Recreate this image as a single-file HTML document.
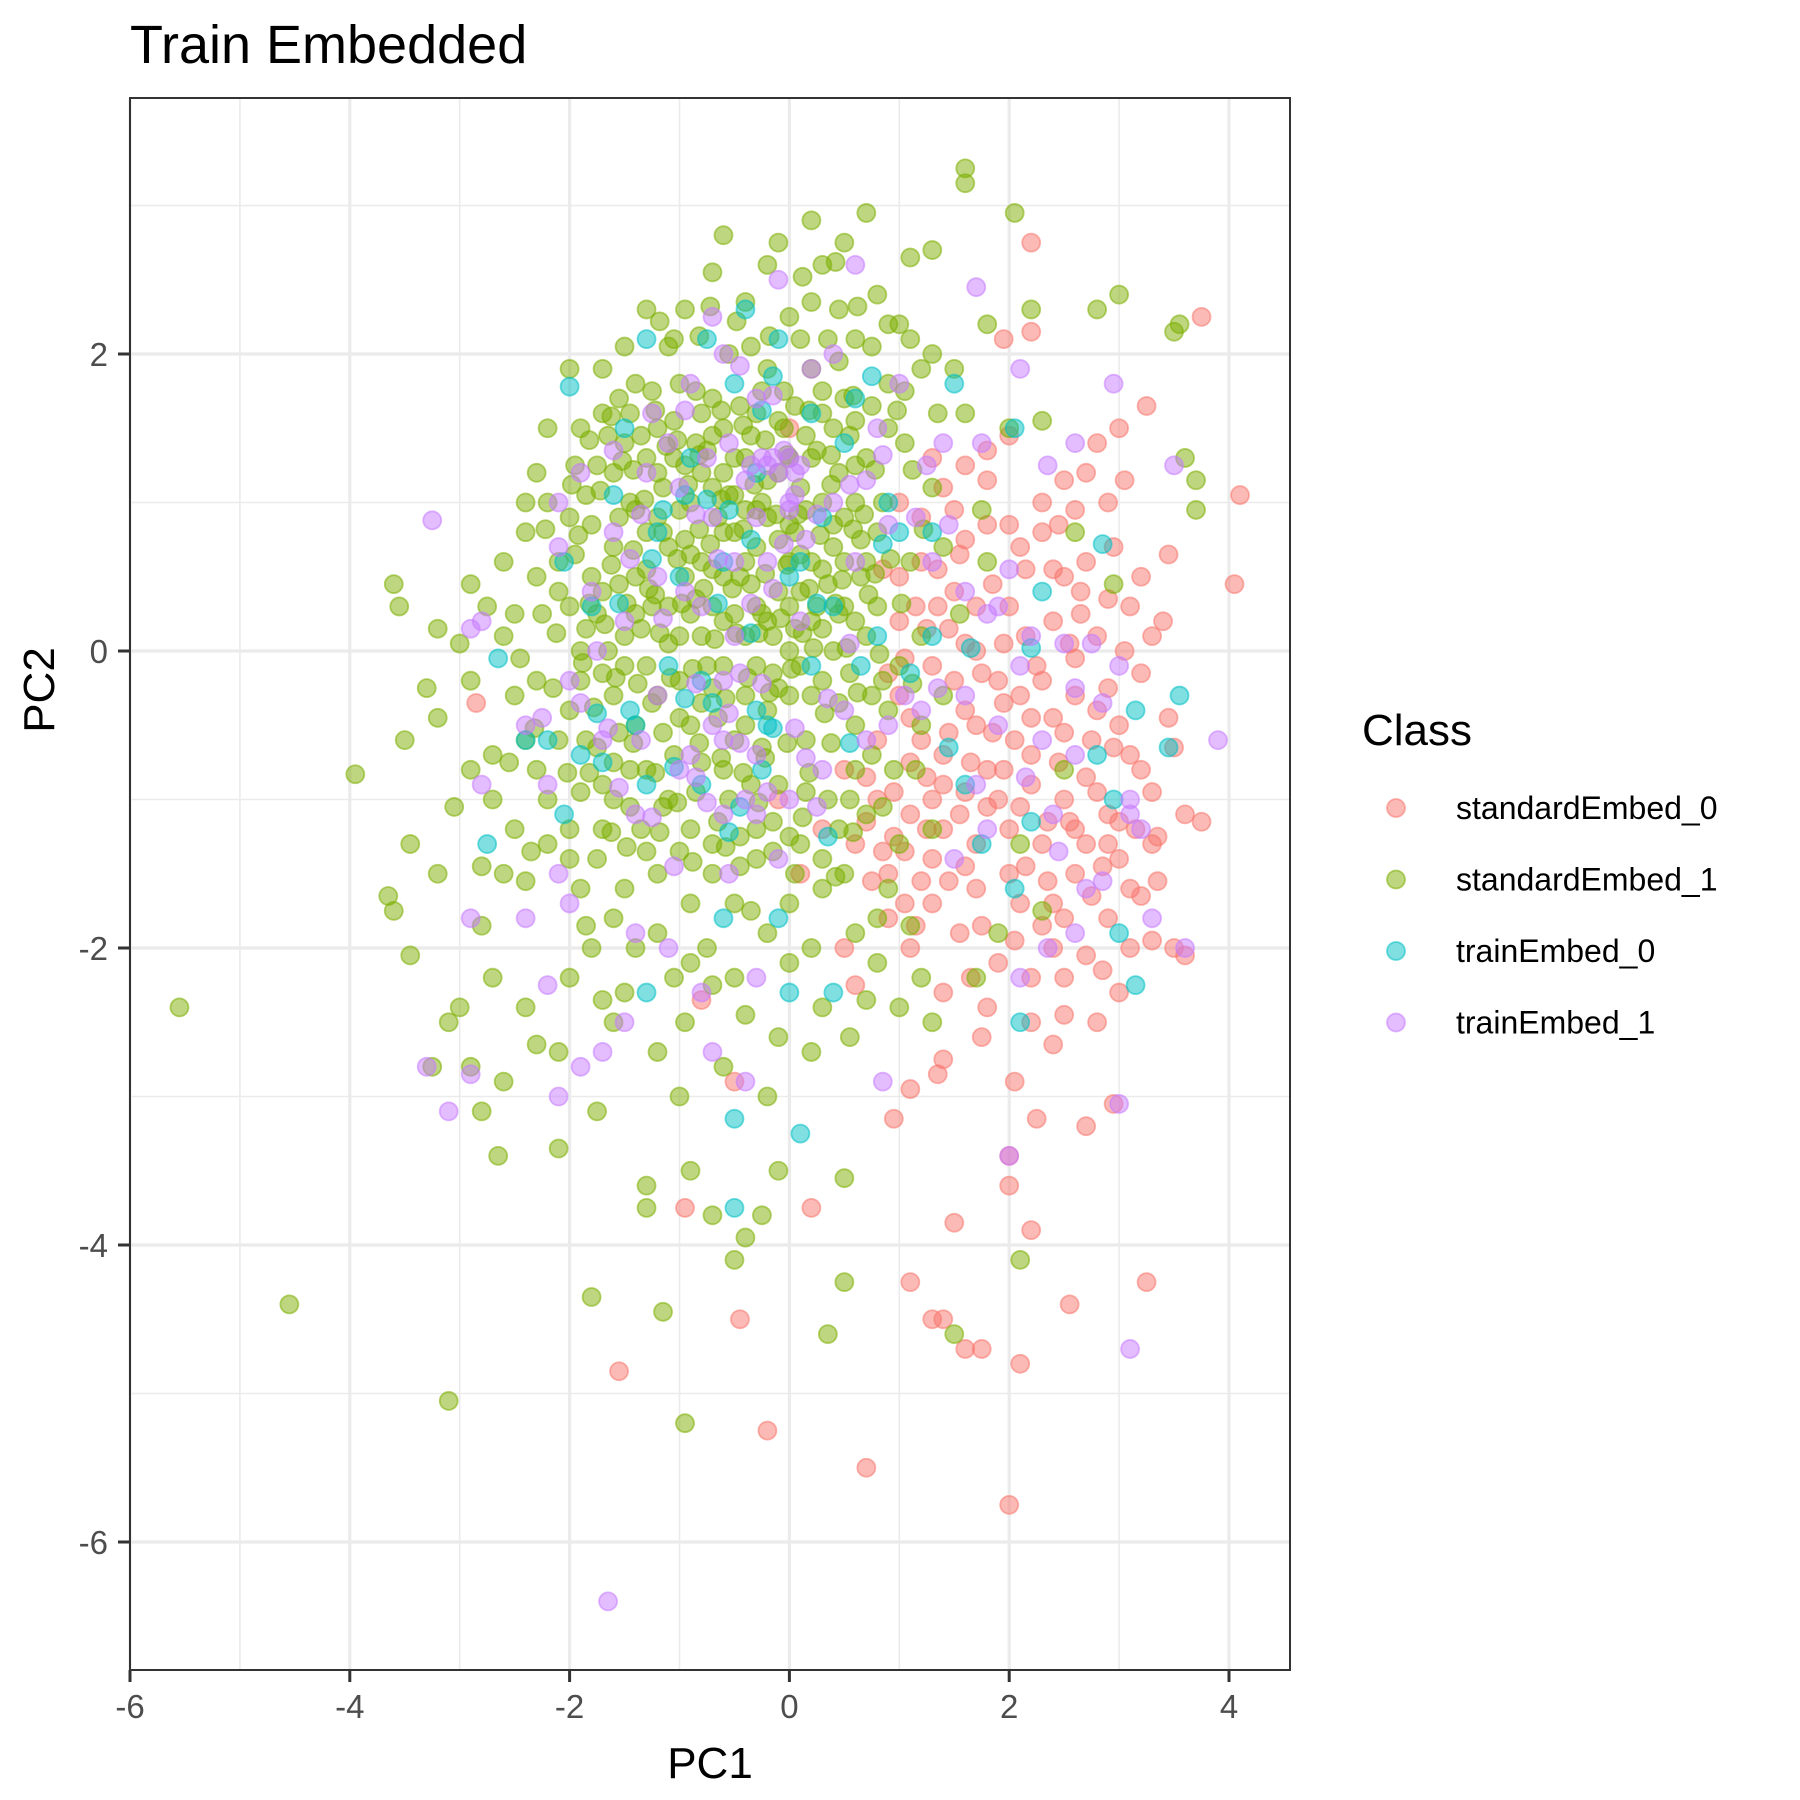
<!DOCTYPE html>
<html><head><meta charset="utf-8"><title>Train Embedded</title>
<style>html,body{margin:0;padding:0;background:#fff}svg{display:block}text{font-family:"Liberation Sans",Arial,sans-serif}</style></head>
<body>
<svg id="chart" width="1800" height="1800" viewBox="0 0 1800 1800" xmlns="http://www.w3.org/2000/svg">
<rect x="0" y="0" width="1800" height="1800" fill="#fff"/>
<text x="130" y="63" font-size="54" fill="#000">Train Embedded</text>
<g id="grid"></g>
<g id="points"></g>
<rect x="130" y="98" width="1160" height="1572" fill="none" stroke="#333" stroke-width="2"/>
<g id="axes"></g>
<text x="710" y="1778" font-size="44" text-anchor="middle" fill="#000">PC1</text>
<text transform="translate(54,690) rotate(-90)" font-size="44" text-anchor="middle" fill="#000">PC2</text>
<g id="legend">
<text x="1362" y="745" font-size="44" fill="#000">Class</text>
</g>
</svg>
<script>
const classNames = ["standardEmbed_0","standardEmbed_1","trainEmbed_0","trainEmbed_1"];
const classColors = ["#F8766D","#7CAE00","#00BFC4","#C77CFF"];
const xTicks = [-6,-4,-2,0,2,4];
const yTicks = [-6,-4,-2,0,2];
const xTickLabels = ["-6","-4","-2","0","2","4"];
const yTickLabels = ["-6","-4","-2","0","2"];
const redPts = "2.2,2.75 3.75,2.25 2.2,2.15 1.95,2.1 3.25,1.65 4.1,1.05 4.05,0.45 3.45,0.65 3.0,1.5 3.05,1.15 2.8,1.4 2.9,1.0 2.6,0.95 2.3,0.8 2.0,0.85 1.8,1.15 1.6,1.25 1.4,1.1 1.2,0.9 1.0,0.5 1.5,0.4 2.5,0.5 3.1,0.3 3.3,0.1 2.8,0.1 2.4,0.2 2.0,0.3 1.7,0.0 1.3,-0.1 1.0,-0.3 0.8,-0.6 1.2,-0.6 1.6,-0.4 2.1,-0.3 2.6,-0.3 3.0,-0.5 3.2,-0.8 3.5,-0.65 3.6,-1.1 3.75,-1.15 3.3,-0.95 2.9,-1.1 2.5,-1.0 2.2,-0.9 1.8,-0.8 1.4,-0.9 1.1,-1.1 0.8,-1.0 0.6,-1.3 0.9,-1.5 1.3,-1.7 1.7,-1.3 2.3,-1.3 2.7,-1.3 3.0,-1.4 3.1,-1.6 3.2,-1.65 2.9,-1.8 2.5,-1.8 2.1,-1.7 1.7,-1.6 1.3,-1.4 0.9,-1.8 0.5,-2.0 0.6,-2.25 1.1,-2.0 1.4,-2.3 1.8,-2.4 2.2,-2.5 2.5,-2.45 3.0,-2.3 3.1,-2.0 3.5,-2.0 3.6,-2.05 1.75,-2.6 2.05,-2.9 2.4,-2.65 2.7,-3.2 2.95,-3.05 1.4,-2.75 1.35,-2.85 1.1,-2.95 0.95,-3.15 2.25,-3.15 2.0,-3.4 2.0,-3.6 2.2,-3.9 1.5,-3.85 3.25,-4.25 2.55,-4.4 1.1,-4.25 1.3,-4.5 1.4,-4.5 1.6,-4.7 1.75,-4.7 2.1,-4.8 -0.45,-4.5 -1.55,-4.85 -0.2,-5.25 0.7,-5.5 2.0,-5.75 -0.95,-3.75 0.2,-3.75 -0.5,-2.9 -0.8,-2.35 0.1,-1.5 -0.1,-1.0 0.3,-1.2 -2.85,-0.35 0.0,1.5 2.0,1.45 1.0,1.0 0.5,-0.8 2.4,-2.0 1.9,-1.0 1.15,0.3 1.45,0.15 1.85,0.45 2.15,0.55 2.45,0.85 2.7,0.6 2.95,0.7 3.2,-0.15 2.75,-0.6 2.4,-0.45 2.05,-0.6 1.75,-0.15 1.45,-0.55 1.25,-0.85 1.55,-1.1 2.0,-1.2 2.35,-1.55 2.6,-1.5 2.85,-1.45 3.35,-1.25 3.45,-0.45 2.65,0.25 2.25,-0.1 1.95,0.05 1.6,0.75 1.35,0.55 1.1,-0.45 0.9,-0.15 0.7,-0.85 0.95,-1.25 1.2,-1.55 1.55,-1.9 1.9,-2.1 2.2,-2.2 2.7,-2.05 2.8,-2.5 3.3,-1.3 1.65,-2.2 1.05,-1.7 0.75,-1.55 2.3,1.0 2.55,0.05 3.05,0.0 2.9,-0.25 1.85,-0.55 2.55,-1.15 2.15,-1.45 1.0,0.2 1.3,1.3 1.7,0.3 2.15,0.1 0.85,0.55 1.05,-0.05 1.25,0.15 1.5,-0.2 1.7,-0.5 1.95,-0.35 2.2,-0.7 2.45,-0.75 2.7,-0.85 2.95,-0.65 3.15,-1.2 2.75,-1.65 2.4,-1.7 2.0,-1.5 1.6,-1.45 1.25,-1.2 0.95,-0.95 0.7,-1.15 1.05,-1.35 1.4,-1.2 1.8,-1.05 2.1,-1.05 2.35,-1.15 2.6,-1.2 2.9,-1.3 3.1,-0.7 2.8,-0.4 2.5,-0.55 2.2,-0.45 1.9,-0.2 1.6,0.05 1.35,0.3 1.2,0.6 1.55,0.65 1.8,0.85 2.1,0.7 2.4,0.55 2.65,0.4 2.9,0.35 3.2,0.5 3.4,0.2 1.4,-0.7 1.65,-0.75 1.95,-0.8 2.3,-0.2 2.6,-0.05 1.1,-0.75 1.3,-1.0 1.6,-0.95 2.05,-1.95 2.3,-1.85 1.75,-1.85 1.45,-1.55 1.15,-1.85 0.85,-1.35 2.8,-0.95 3.0,-1.15 2.5,-2.2 2.85,-2.15 3.35,-1.55 3.3,-1.95 1.5,0.95 1.8,1.35 2.5,1.15 2.7,1.2";
const greenPts = "-5.55,-2.4 -4.55,-4.4 -3.95,-0.83 -3.1,-5.05 -0.95,-5.2 -1.8,-4.35 -1.15,-4.45 0.35,-4.6 1.5,-4.6 2.1,-4.1 0.5,-4.25 -0.5,-4.1 -0.4,-3.95 -0.25,-3.8 -0.7,-3.8 -1.3,-3.6 -1.3,-3.75 0.5,-3.55 -0.1,-3.5 -0.9,-3.5 -1.75,-3.1 -2.1,-3.35 -2.65,-3.4 -2.8,-3.1 -3.25,-2.8 -2.9,-2.8 -3.0,-2.4 -3.1,-2.5 -2.6,-2.9 -2.3,-2.65 -2.1,-2.7 -1.6,-2.5 -1.2,-2.7 -1.0,-3.0 -0.6,-2.8 -0.2,-3.0 0.3,-2.4 0.7,-2.35 1.6,3.25 1.6,3.15 2.05,2.95 0.7,2.95 0.2,2.9 1.3,2.7 1.1,2.65 2.8,2.3 3.0,2.4 3.5,2.15 3.55,2.2 3.6,1.3 3.7,1.15 3.7,0.95 2.6,0.8 2.95,0.45 -3.6,0.45 -3.55,0.3 -3.5,-0.6 -3.65,-1.65 -3.6,-1.75 -3.45,-1.3 -3.45,-2.05 -3.2,-1.5 -3.2,-0.45 -3.3,-0.25 -3.2,0.15 -2.9,0.45 -2.9,-0.8 -2.8,-1.45 -2.8,-1.85 -2.7,-2.2 -2.6,-1.5 -2.6,0.6 -2.5,-0.3 -2.4,0.8 -2.3,-0.8 -2.2,1.0 -2.1,0.4 -2.0,-1.2 -1.9,1.5 -1.8,-2.0 -1.5,-2.3 -1.2,-1.9 -0.9,-2.1 -0.5,-2.2 0.0,-2.1 0.5,-1.5 0.9,-1.6 1.1,-1.85 1.3,-2.5 1.7,-2.2 1.9,-1.9 2.1,-1.3 1.4,-0.3 1.8,0.6 2.0,1.5 2.2,2.3 1.8,2.2 1.5,1.9 1.1,2.1 0.8,2.4 0.3,2.6 -0.2,2.6 -0.7,2.55 -1.1,2.05 -1.4,1.8 -1.7,1.6 -2.2,1.5 -2.4,1.0 -2,0.9 -1.8,0.5 -1.6,1.2 -1.5,0.1 -1.4,-0.5 -1.3,0.8 -1.2,1.5 -1.1,0.3 -1,-0.2 -0.9,1 -0.8,0.6 -0.7,1.7 -0.6,0.2 -0.5,-0.6 -0.4,1.3 -0.3,0.7 -0.2,1.9 -0.1,0.4 0,-0.3 0.1,1.1 0.2,0.6 0.3,1.6 0.4,0 0.5,0.9 0.6,-0.5 0.7,1.3 0.8,0.3 0.9,1.8 1,-0.1 1.1,0.6 -1.9,-0.2 -1.7,-0.9 -1.6,0.7 -1.45,1.6 -1.35,-1.2 -1.25,0.3 -1.15,1.1 -1.05,-0.7 -0.95,0.5 -0.85,1.4 -0.75,-0.1 -0.65,0.9 -0.55,2.0 -0.45,0.5 -0.35,-0.9 -0.25,1.0 -0.15,0.1 -0.05,1.5 0.05,0.8 0.15,-0.6 0.25,0.3 0.35,2.1 0.45,1.2 0.55,-1 0.65,0.5 0.75,-0.3 0.85,1.0 0.95,-0.8 1.05,1.4 1.2,0.1 -2.1,-0.6 -2,0.3 -1.85,1.05 -1.75,-1.4 -1.65,0 -1.55,0.9 -1.45,-0.8 -1.3,1.3 -1.2,-0.3 -1.1,0.7 -1,1.8 -0.9,-1.2 -0.8,0.1 -0.7,1.1 -0.6,-0.8 -0.5,0.8 -0.4,0.1 -0.3,1.6 -0.2,-0.4 -0.1,1.2 0,0.6 0.1,-1.3 0.2,1.9 0.3,-0.2 0.4,0.7 0.5,1.7 0.6,0.2 0.7,-1.1 0.8,0.8 0.9,-0.4 -1.7,1.9 -1.5,1.4 -1.2,0.9 -1,0.1 -0.8,1.6 -0.6,0.5 -0.4,-0.3 -0.2,0.9 0,1.3 0.2,0.2 0.4,1.5 0.6,1 -1.4,0.5 -1.1,-1 -0.9,-0.5 -0.7,0.3 -0.5,1.3 -0.3,0.3 -0.1,-0.9 0.1,0.4 0.3,1.0 0.5,0.3 -1.6,-0.3 -1.3,-0.1 -0.3,-1.4 0,-1.7 -1.9,-1.6 -1.5,-1.6 -0.7,-1.5 -0.5,-1.7 0.3,-1.6 -2.3,-0.2 -2.2,-1 -2.4,-0.6 -2.5,-1.2 -2.7,-0.7 -2.6,0.1 -2.3,0.5 0.2,2.35 -0.4,2.35 0.0,2.25 -1.05,2.1 1.3,1.1 1.4,0.7 1.2,-0.5 1.3,-1.2 1.0,-1.3 0.8,-1.8 0.6,-1.9 0.2,-2.0 -0.2,-1.9 -0.9,-1.7 -1.2,-1.5 -1.7,-1.2 -2.0,-1.4 -1.9,0.0 -2.1,0.6 -1.75,0.25 -1.55,-0.55 -1.35,0.15 -1.15,-0.55 -0.95,0.75 -0.75,1.35 -0.55,1.05 -0.35,0.45 -0.15,-0.15 0.05,0.15 0.25,1.35 0.45,-0.35 0.65,0.75 0.85,-1.05 -1.85,-0.6 -1.65,1.45 -1.25,1.75 -0.85,0.35 -0.65,-0.45 -0.45,-1.25 -0.25,0.25 -0.05,1.75 0.15,0.95 0.35,0.45 0.55,1.45 0.75,2.05 -0.95,2.3 -1.45,1.0 -2.15,-0.25 -2.35,-1.35 -0.65,-1.15 -0.15,-1.15 0.35,-1.0 1.15,-0.8 1.35,1.6 1.0,2.2 -1.95,1.25 -2.5,0.25 -0.8,-0.75 -0.4,0.95 0.0,0.0 -1.05,1.3 -0.6,1.5 -0.25,-0.65 0.45,2.3 -1.6,-1.0 -1.3,-0.8 -1.95,0.65 -1.8,0.85 -1.7,0.4 -1.55,0.45 -1.4,0.95 -1.3,0.55 -1.15,0.8 -1.0,0.95 -0.9,0.65 -0.8,1.2 -0.7,0.55 -0.6,0.8 -0.5,1.05 -0.4,0.6 -0.3,0.95 -0.2,1.15 -0.1,0.75 0.0,0.85 0.1,0.65 0.2,1.3 0.3,0.55 0.4,0.85 0.5,0.6 0.6,1.25 0.7,0.6 -1.85,0.15 -1.7,-0.15 -1.5,-0.1 -1.4,0.25 -1.25,-0.35 -1.1,0.05 -1.0,-0.45 -0.9,0.25 -0.8,-0.35 -0.7,-0.25 -0.6,-0.1 -0.5,0.25 -0.4,-0.5 -0.3,-0.1 -0.2,0.2 -0.1,-0.25 0.0,0.3 0.1,-0.1 0.2,-0.3 0.3,0.15 0.45,0.25 0.55,-0.15 0.7,0.1 0.85,-0.2 -1.75,1.25 -1.55,1.7 -1.35,1.45 -1.2,1.2 -1.05,1.55 -0.95,1.25 -0.85,1.75 -0.7,1.45 -0.6,1.2 -0.45,1.65 -0.35,1.45 -0.25,1.75 -0.1,1.55 0.05,1.65 0.15,1.45 0.3,1.75 0.45,1.95 0.6,1.55 0.75,1.65 0.9,1.5 1.05,1.75 1.2,1.9 -1.9,-0.95 -1.75,-0.65 -1.6,-0.75 -1.45,-1.05 -1.3,-1.35 -1.15,-1.05 -1.0,-1.35 -0.85,-0.95 -0.7,-1.3 -0.55,-1.0 -0.45,-1.45 -0.3,-1.2 -0.15,-1.35 0.0,-1.25 0.15,-0.95 0.3,-1.4 0.45,-1.2 0.6,-0.8 0.75,-0.7 -2.0,-0.4 -2.25,0.25 -2.45,-0.05 -2.55,-0.75 -2.2,-1.3 -2.4,-1.55 -1.85,-1.85 -1.6,-1.8 -1.4,-2.0 -1.05,-2.2 -0.75,-2.0 -0.35,-1.75 0.05,-1.5 -2.75,0.3 -2.9,-0.2 -3.05,-1.05 -3.0,0.05 -2.7,-1.0 -2.4,-2.4 -2.0,-2.2 -1.7,-2.35 -0.95,-2.5 -0.7,-2.25 -0.4,-2.45 -0.1,-2.6 0.2,-2.7 0.55,-2.6 0.8,-2.1 -1.3,2.3 -0.6,2.8 -0.1,2.75 0.5,2.75 0.9,2.2 -0.35,2.05 0.1,2.1 0.6,2.1 1.3,2.0 1.6,1.6 1.75,0.95 1.55,0.25 2.3,1.55 2.5,-0.8 2.3,-1.75 1.2,-2.2 1.0,-2.4 -1.5,2.05 -2.0,1.9 -2.3,1.2 -1.92,0.78 -1.82,0.32 -1.72,1.08 -1.62,0.58 -1.52,1.28 -1.42,0.68 -1.32,1.02 -1.22,0.38 -1.12,1.38 -1.02,0.62 -0.92,1.12 -0.82,0.82 -0.72,0.72 -0.62,1.02 -0.52,0.42 -0.42,0.82 -0.32,1.12 -0.22,0.52 -0.12,0.92 -0.02,0.58 0.08,0.92 0.18,0.42 0.28,0.78 0.38,1.12 0.48,0.48 0.58,0.82 0.68,0.92 0.78,0.52 -1.88,-0.08 -1.78,-0.38 -1.68,0.18 -1.58,-0.18 -1.48,0.32 -1.38,-0.22 -1.28,0.42 -1.18,0.12 -1.08,-0.18 -0.98,0.32 -0.88,-0.12 -0.78,0.42 -0.68,0.08 -0.58,-0.32 -0.48,0.12 -0.38,-0.18 -0.28,0.12 -0.18,-0.28 -0.08,0.22 0.02,-0.12 0.12,0.12 0.22,0.02 0.32,-0.42 0.42,0.32 0.52,0.02 0.62,-0.28 0.72,0.38 0.82,-0.02 -1.82,1.42 -1.62,1.58 -1.42,1.22 -1.22,1.62 -1.02,1.42 -0.82,1.32 -0.62,1.62 -0.42,1.52 -0.22,1.42 -0.02,1.32 0.18,1.62 0.38,1.32 0.58,1.72 0.78,1.22 0.98,1.62 -1.82,-0.82 -1.62,-1.22 -1.42,-0.62 -1.22,-0.82 -1.02,-1.02 -0.82,-0.62 -0.62,-0.72 -0.42,-0.82 -0.22,-0.72 -0.02,-0.62 0.18,-0.82 0.38,-0.62 0.58,-1.22 -1.48,-1.32 -1.18,-1.22 -0.88,-1.42 -0.58,-1.32 -0.28,-1.02 0.12,-1.12 0.42,-1.52 -2.12,0.12 -2.02,-0.82 -2.22,0.82 -2.32,-0.52 -1.98,1.12 -1.18,2.22 -0.82,2.12 -0.48,2.22 -0.18,2.12 0.12,2.52 0.42,2.62 0.62,2.32 -0.72,2.32 1.12,1.22 1.22,0.82 1.12,-0.22 1.02,0.32 0.92,0.62";
const cyanPts = "-2.0,1.78 -1.3,2.1 -0.75,2.1 -0.4,2.3 -0.1,2.1 0.6,1.7 1.5,1.8 2.05,1.5 -1.5,1.5 -0.9,1.3 -0.3,1.2 0.2,1.6 0.9,1.0 1.3,0.8 -1.8,0.3 -1.2,0.8 -0.6,0.6 0.0,0.5 0.4,0.3 -2.65,-0.05 -2.2,-0.6 -1.4,-0.5 -0.8,-0.2 -0.3,-0.4 0.2,-0.1 0.8,0.1 1.3,0.1 1.65,0.02 2.2,0.02 2.85,0.72 3.55,-0.3 3.45,-0.65 3.15,-0.4 2.8,-0.7 2.95,-1.0 2.2,-1.15 1.75,-1.3 1.6,-0.9 -2.75,-1.3 -2.05,-1.1 -1.3,-0.9 -0.8,-0.9 -0.6,-1.8 -0.1,-1.8 0.4,-2.3 0.0,-2.3 -0.5,-3.15 -0.5,-3.75 0.1,-3.25 2.05,-1.6 2.1,-2.5 3.0,-1.9 3.15,-2.25 -1.3,-2.3 -2.4,-0.6 -1.0,0.5 -0.5,1.8 0.3,0.9 -1.7,-0.75 1.0,0.8 -0.2,-0.5 -1.1,-0.1 2.3,0.4 -1.15,0.95 -0.95,1.05 -0.55,0.95 -0.35,0.75 0.1,0.6 0.5,1.4 -1.6,1.05 -1.45,-0.4 -0.7,-0.35 -0.25,-0.8 0.65,-0.1 -1.9,-0.7 -0.45,-1.05 1.45,-0.65 1.1,-0.15 0.75,1.85 -0.15,1.85 -2.05,0.6 -1.25,0.62 -0.95,-0.32 -0.65,0.32 -0.35,0.12 0.25,0.32 -0.75,1.02 -1.55,0.32 -0.15,-0.52 0.55,-0.62 -1.05,-0.78 -0.55,-1.22 0.35,-1.25 -1.75,-0.42 0.85,0.72 -0.25,1.62";
const purplePts = "-3.25,0.88 -3.3,-2.8 -3.1,-3.1 -2.9,-2.85 -2.1,-3.0 -1.7,-2.7 -1.9,-2.8 -1.65,-6.4 -2.2,-2.25 -2.4,-1.8 -1.5,-2.5 -1.1,-2.0 -0.7,-2.7 -0.4,-2.9 -0.3,-2.2 -0.8,-2.3 -1.4,-1.9 -2.0,-1.7 -2.1,-1.5 -2.2,-0.9 -2.4,-0.5 -2.9,-1.8 -2.8,-0.9 -2.9,0.15 -2.8,0.2 -2.1,0.7 -1.8,0.4 -1.5,0.2 -1.2,-0.3 -0.9,-0.7 -0.6,-1.1 -0.4,-1.0 -0.1,-1.4 0.3,-0.8 0.5,-0.4 0.9,-0.5 1.2,-0.4 1.6,-0.3 1.9,-0.5 2.3,-0.6 2.6,-0.7 2.4,-1.1 1.8,-1.2 1.5,-1.4 2.6,-1.9 2.35,-2.0 2.1,-2.2 2.7,-1.6 2.85,-1.55 3.3,-1.8 3.6,-2.0 3.9,-0.6 3.1,-1.1 3.0,-0.1 2.75,0.05 2.6,-0.25 2.2,0.1 1.9,0.3 1.6,0.4 1.3,0.6 0.9,0.85 1.15,0.9 1.4,1.4 1.75,1.4 2.1,1.9 2.35,1.25 2.6,1.4 2.95,1.8 3.5,1.25 1.7,2.45 0.6,2.6 0.4,2.0 0.2,1.9 -0.1,2.5 -0.3,1.7 -0.6,2.0 -0.7,2.25 -0.9,1.8 -1.1,1.4 -1.3,1.2 -1.6,1.35 -1.9,1.2 -2.1,1.0 -1.6,0.8 -1.2,0.5 -0.8,0.3 -0.5,0.1 -0.2,0.6 0.0,1.0 -0.1,1.2 -0.2,1.25 0.0,1.3 0.1,1.25 -0.4,1.15 -0.5,0.6 -0.7,0.9 -1.0,1.1 0.4,1.0 0.6,0.6 0.8,1.5 1.0,1.8 0.1,0.2 -0.3,-0.7 -0.7,-0.5 -1.0,-0.8 -1.4,-1.1 -1.7,-0.6 -2.0,-0.2 -0.6,-0.2 -0.3,-1.1 0.0,-1.0 2.0,-3.4 3.0,-3.05 3.1,-4.7 0.85,-2.9 -0.6,-0.6 3.1,-1.0 2.1,-0.1 -0.15,1.3 -0.05,1.35 0.05,1.2 -0.25,1.3 0.0,0.95 0.05,1.05 -0.35,1.25 -0.3,0.9 0.15,0.75 -0.75,1.3 -0.55,1.4 -1.25,1.6 -0.95,0.4 -1.35,-0.6 -0.85,-0.85 -0.2,-0.95 0.25,-1.05 0.7,-0.6 1.05,-0.3 1.35,-0.25 1.7,-0.9 2.15,-0.85 2.45,-1.35 1.8,0.25 1.25,1.25 0.7,1.15 -1.75,0.0 -1.9,-0.35 -2.25,-0.45 -0.45,-0.15 0.55,0.05 1.45,0.85 2.0,0.55 2.5,0.05 2.85,-0.35 3.2,-1.2 -1.05,-1.45 -0.55,-1.5 -1.45,0.62 -1.15,0.22 -0.85,-0.22 -0.55,-0.42 -0.25,-0.22 0.05,-0.52 0.35,-0.32 -1.65,-0.52 -1.35,0.92 -0.65,0.62 -0.35,0.32 -0.05,0.72 0.25,0.92 0.55,1.12 0.85,1.32 -0.95,1.62 -0.45,1.92 -0.15,1.72 -1.55,-0.92 -1.25,-1.12 -0.75,-1.02 -0.45,-0.62 0.15,-0.72 -0.85,0.92 -0.15,0.42";
const seriesData = [redPts, greenPts, cyanPts, purplePts];

const NS = "http://www.w3.org/2000/svg";
const PL = 130, PR = 1290, PT = 98, PB = 1670;
const X0 = -6, X1 = 4.555, Y0 = -6.862, Y1 = 3.724;
function sx(v){ return PL + (v - X0) / (X1 - X0) * (PR - PL); }
function sy(v){ return PB - (v - Y0) / (Y1 - Y0) * (PB - PT); }
function mk(tag, attrs, parent){
  const e = document.createElementNS(NS, tag);
  for (const k in attrs) e.setAttribute(k, attrs[k]);
  parent.appendChild(e);
  return e;
}
const grid = document.getElementById('grid');
const bg = mk('rect', {x:PL, y:PT, width:PR-PL, height:PB-PT, fill:'#fff'}, grid);


for (let v = -5; v <= 4; v += 2) {
  const l = mk('line', {x1:sx(v), x2:sx(v), y1:PT, y2:PB, stroke:'#ebebeb', 'stroke-width':1.6}, grid);
  
  
}
for (let v = -7; v <= 3; v += 2) {
  if (sy(v) < PT || sy(v) > PB) continue;
  const l = mk('line', {x1:PL, x2:PR, y1:sy(v), y2:sy(v), stroke:'#ebebeb', 'stroke-width':1.6}, grid);
  
  
}
xTicks.forEach(v => {
  const l = mk('line', {x1:sx(v), x2:sx(v), y1:PT, y2:PB, stroke:'#ebebeb', 'stroke-width':3.2}, grid);
  
  
});
yTicks.forEach(v => {
  const l = mk('line', {x1:PL, x2:PR, y1:sy(v), y2:sy(v), stroke:'#ebebeb', 'stroke-width':3.2}, grid);
  
  
});
const pts = document.getElementById('points');
seriesData.forEach((s, i) => {
  const g = mk('g', {}, pts);
  
  
  s.trim().split(/\s+/).forEach(p => {
    const [x, y] = p.split(',').map(Number);
    const c = mk('circle', {cx:sx(x), cy:sy(y), r:9, fill:classColors[i], 'fill-opacity':0.5, stroke:classColors[i], 'stroke-opacity':0.55, 'stroke-width':1.8}, g);
    
    
  });
});
const axes = document.getElementById('axes');
xTicks.forEach((v, i) => {
  const t = mk('line', {x1:sx(v), x2:sx(v), y1:PB, y2:PB+12, stroke:'#333', 'stroke-width':3}, axes);
  
  
  const tx = mk('text', {x:sx(v), y:PB+48, 'font-size':33, fill:'#4d4d4d', 'text-anchor':'middle'}, axes);
  tx.textContent = xTickLabels[i];
  
  
});
yTicks.forEach((v, i) => {
  const t = mk('line', {x1:PL-12, x2:PL, y1:sy(v), y2:sy(v), stroke:'#333', 'stroke-width':3}, axes);
  
  
  const tx = mk('text', {x:PL-22, y:sy(v)+12, 'font-size':33, fill:'#4d4d4d', 'text-anchor':'end'}, axes);
  tx.textContent = yTickLabels[i];
  
  
});
const leg = document.getElementById('legend');
classNames.forEach((n, i) => {
  const y = 808 + i * 71.5;
  const c = mk('circle', {cx:1396, cy:y, r:9, fill:classColors[i], 'fill-opacity':0.5, stroke:classColors[i], 'stroke-opacity':0.55, 'stroke-width':1.8}, leg);
  
  
  const t = mk('text', {x:1456, y:y+11, 'font-size':32, fill:'#000'}, leg);
  t.textContent = n;
  
  
});
</script>
</body></html>
